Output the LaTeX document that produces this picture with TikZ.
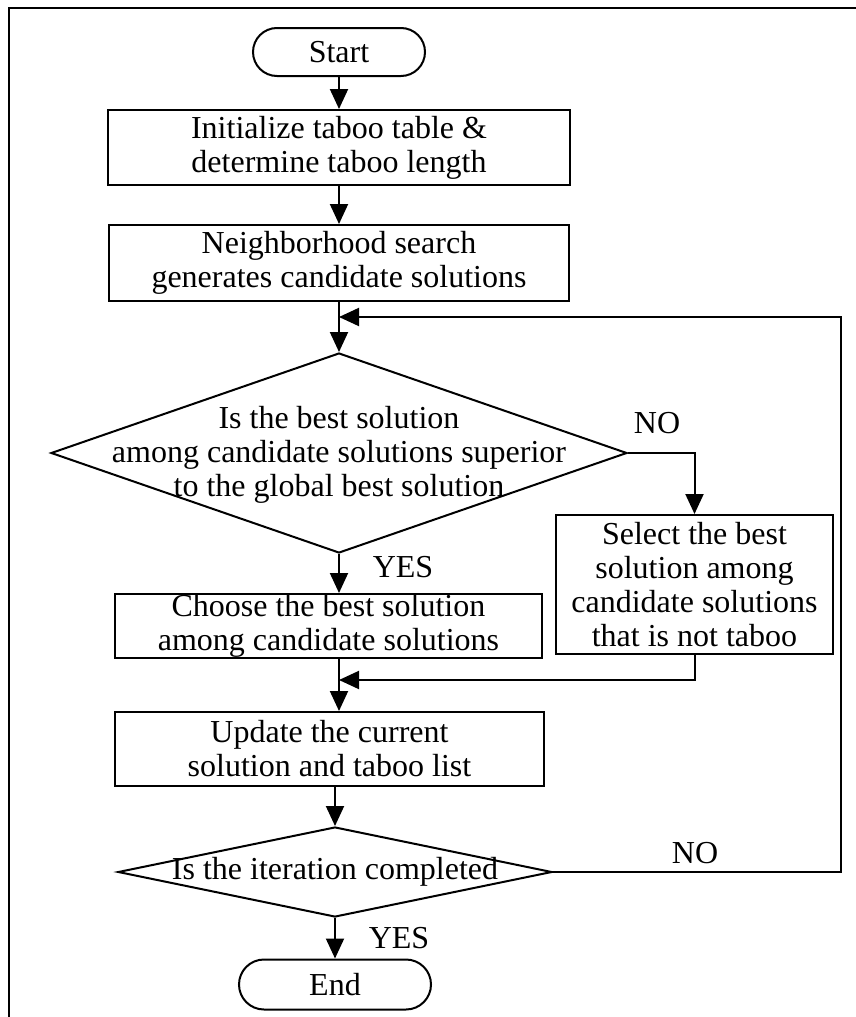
\documentclass[tikz,border=0pt]{standalone}
\usepackage{fontspec}
\setmainfont{Liberation Serif}
\usetikzlibrary{arrows.meta,shapes.geometric}

\begin{document}
\begin{tikzpicture}[x=1pt,y=-1pt,line width=2pt,
	box/.style={draw,rectangle,inner sep=0pt,align=center,font=\fontsize{32}{34}\selectfont},
	term/.style={draw,rectangle,rounded corners=24pt,minimum height=48pt,inner sep=0pt,font=\fontsize{32}{34}\selectfont},
	decide/.style={draw,diamond,inner sep=0pt},
	txt/.style={align=center,inner sep=0pt,font=\fontsize{32}{34}\selectfont},
	flow/.style={-{Triangle[length=20pt,width=18pt]}}]
	
	\def\mx{339}
	\def\lx{335}
	
	\useasboundingbox (0,0) rectangle (856,1017);
	
	% The frame
	\draw (9,1017) -- (9,8) -- (856,8);
	
	% The steps
	\node[term,minimum width=172pt] (start) at (\mx,52) {Start};
	\node[box,minimum width=462pt,minimum height=75pt] (init) at (\mx,147.5)
	      {Initialize taboo table \&\\determine taboo length};
	\node[box,minimum width=460pt,minimum height=76pt] (neigh) at (\mx,263)
	      {Neighborhood search\\generates candidate solutions};
	\coordinate (join1) at (\mx,317);
	
	% First test and its text
	\node[decide,minimum width=576pt,minimum height=200pt] (dec1) at (\mx,453) {};
	\node[txt] (dec1t) at (\mx,455)
	      {Is the best solution\\among candidate solutions superior\\to the global best solution};
	
	\node[box,minimum width=277pt,minimum height=139pt] (select) at (694.5,584.5)
	      {Select the best\\solution among\\candidate solutions\\that is not taboo};
	\node[box,minimum width=427pt,minimum height=64pt] (choose) at (328.5,626)
	      {Choose the best solution\\among candidate solutions};
	\coordinate (join2) at (\mx,680);
	\node[box,minimum width=429pt,minimum height=74pt] (update) at (329.5,749)
	      {Update the current\\solution and taboo list};
	
	% Second test
	\node[decide,minimum width=434pt,minimum height=90pt] (dec2) at (\lx,872) {};
	\node[txt] (dec2t) at (\lx,872) {Is the iteration completed};
	\node[term,minimum width=192pt,minimum height=50pt,rounded corners=25pt] (end) at (\lx,984.5) {End};
	\coordinate (loop) at (841,317);
	
	% Branch labels
	\node[txt] (no1) at (657,423) {NO};
	\node[txt] (yes1) at (403,567) {YES};
	\node[txt] (no2) at (695,853) {NO};
	\node[txt] (yes2) at (399,938) {YES};
	
	% The connectors
	\draw[flow] (start) -- (init);
	\draw[flow] (init) -- (neigh);
	\draw (neigh.south) -- (join1);
	\draw[flow] (join1) -- (dec1.north);
	\draw[flow] (dec1.east) -| (select.north);
	\draw[flow] (dec1.south) -- (dec1.south |- choose.north);
	\draw (choose.south -| join2) -- (join2);
	\draw[flow] (select.south) |- (join2);
	\draw[flow] (join2) -- (join2 |- update.north);
	\draw[flow] (update.south -| dec2.north) -- (dec2.north);
	\draw[flow] (dec2.east) -| (loop) -- (join1);
	\draw[flow] (dec2.south) -- (end);
	
\end{tikzpicture}
\end{document}
